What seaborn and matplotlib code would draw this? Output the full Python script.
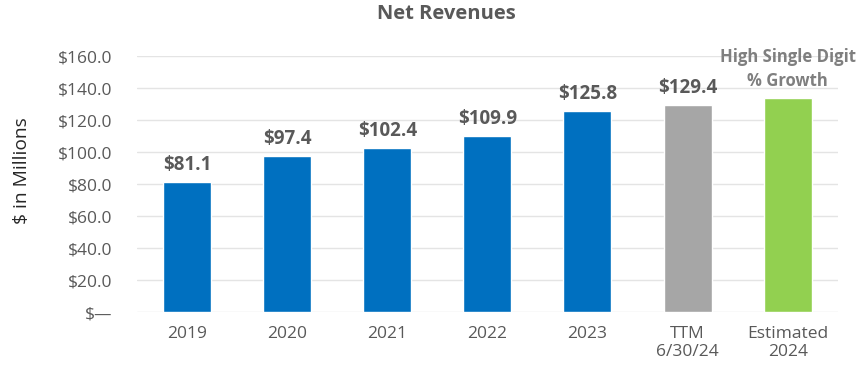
import matplotlib
matplotlib.use("Agg")
import matplotlib.pyplot as plt
import seaborn as sns

# Net revenue by period ($ millions)
categories = ["2019", "2020", "2021", "2022", "2023", "TTM\n6/30/24", "Estimated\n2024"]
revenues = [81.1, 97.4, 102.4, 109.9, 125.8, 129.4, 133.5]
bar_labels = ["$81.1", "$97.4", "$102.4", "$109.9", "$125.8", "$129.4",
              "High Single Digit\n% Growth"]
bar_colors = ["#0070C0", "#0070C0", "#0070C0", "#0070C0", "#0070C0", "#A6A6A6", "#92D050"]
y_ticks = [0, 20, 40, 60, 80, 100, 120, 140, 160]
y_tick_labels = ["$\u2014", "$20.0", "$40.0", "$60.0", "$80.0", "$100.0",
                 "$120.0", "$140.0", "$160.0"]

sns.set_style("white")
plt.rcParams["font.family"] = ["Open Sans", "DejaVu Sans"]

fig = plt.figure(figsize=(8.61, 3.71), dpi=100)
ax = fig.add_axes([0.159, 0.159, 0.814, 0.690])

sns.barplot(x=categories, y=revenues, hue=categories, palette=bar_colors,
            legend=False, width=0.48, saturation=1, ax=ax)

ax.set_ylim(0, 160)
ax.set_xlim(-0.5, len(categories) - 0.5)
ax.set_yticks(y_ticks)
ax.set_yticklabels(y_tick_labels)
ax.yaxis.grid(True, color="#E4E4E4", linewidth=1)
ax.set_axisbelow(True)
for s in ax.spines.values():
    s.set_visible(False)
ax.tick_params(axis="y", length=0, pad=18, labelsize=12.5, labelcolor="#595959")
ax.tick_params(axis="x", length=0, pad=10, labelsize=12.5, labelcolor="#595959")
ax.set_xlabel("")
ax.set_ylabel("")
fig.text(0.026, 0.54, "$ in Millions", rotation=90, ha="center", va="center",
         fontsize=13.8, color="#262626")

# value labels above each bar
for i, container in enumerate(ax.containers):
    idx = categories.index(container.get_label()) if container.get_label() in categories else i
    last = idx == len(categories) - 1
    ax.bar_label(container, labels=[bar_labels[idx]], padding=6 if last else 5,
                 fontsize=12 if last else 13.5, fontweight="bold",
                 color="#7F7F7F" if last else "#595959", linespacing=1.45)

fig.text(0.519, 0.962, "Net Revenues", ha="center", va="center", fontsize=14.5,
         fontweight="bold", color="#595959")

fig.savefig("out.png", dpi=100)
